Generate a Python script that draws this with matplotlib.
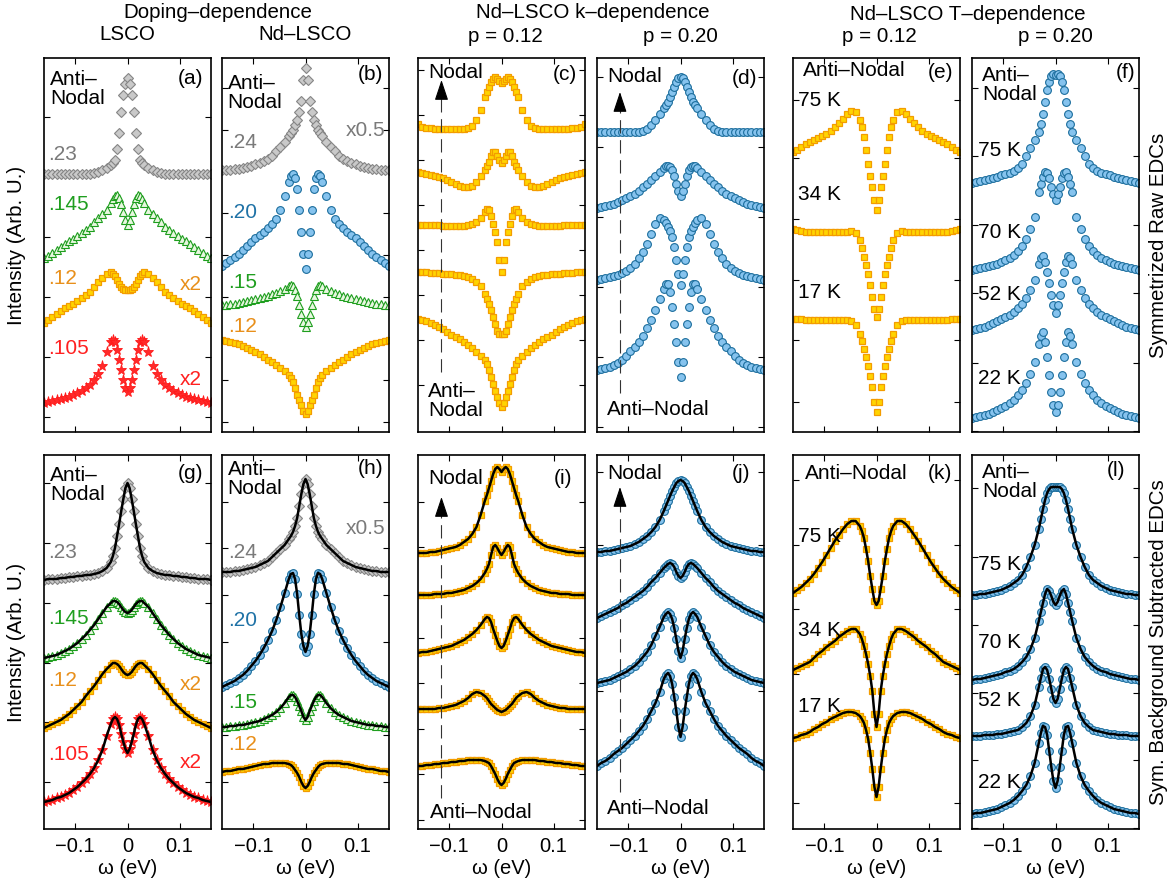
import numpy as np
import matplotlib
matplotlib.use('Agg')
import matplotlib.pyplot as plt

plt.rcParams['font.family'] = ['Liberation Sans', 'DejaVu Sans']
plt.rcParams['font.size'] = 14

# symmetrized EDCs: only the w >= 0 half is stored, the other half is its mirror
omega_half = [0.000, 0.004, 0.008, 0.012, 0.016, 0.020, 0.024, 0.028, 0.032,
              0.040, 0.048, 0.056, 0.064, 0.072, 0.080, 0.088, 0.096, 0.104,
              0.112, 0.120, 0.128, 0.136, 0.144, 0.152, 0.160]

# ---- raw symmetrized EDCs (arb. units, offsets included) ----
a_23 = [354, 348, 337, 320, 299, 283, 272, 269, 267, 264, 262, 260, 259, 258, 258, 258, 258, 258, 258, 258, 258, 258, 258, 258, 258]
a_145 = [207, 212, 220, 228, 234, 237, 236, 233, 229, 222, 218, 214, 210, 205, 202, 199, 196, 193, 191, 188, 185, 182, 179, 176, 174]
a_12 = [142, 142, 143, 145, 148, 152, 156, 158, 160, 158, 154, 150, 145, 140, 137, 134, 131, 128, 126, 124, 121, 118, 115, 112, 109]
a_105 = [40, 44, 52, 62, 72, 82, 90, 92, 90, 80, 66, 58, 52, 47, 44, 41, 39, 37, 35, 34, 33, 32, 31, 30, 29]

b_24 = [364, 352, 331, 320, 312, 307, 302, 299, 296, 290, 285, 281, 276, 273, 271, 269, 268, 266, 265, 264, 263, 263, 262, 262, 262]
b_20 = [163, 178, 200, 222, 243, 254, 258, 256, 250, 236, 222, 213, 208, 204, 200, 197, 194, 190, 186, 182, 178, 175, 172, 169, 166]
b_15 = [105, 110, 118, 127, 136, 142, 146, 147, 146, 143, 141, 139, 138, 136, 135, 134, 133, 132, 131, 130, 129, 128, 128, 127, 127]
b_12 = [18, 21, 27, 32, 37, 44, 50, 54, 57, 61, 64, 67, 70, 72, 75, 78, 80, 82, 84, 86, 88, 89, 90, 91, 92]

c_1 = [349, 351, 353, 355, 353, 350, 345, 340, 335, 322, 312, 306, 304, 303, 303, 303, 303, 303, 303, 303, 303, 304, 304, 305, 308]
c_2 = [269, 272, 276, 280, 280, 276, 270, 266, 262, 256, 250, 246, 245, 245, 246, 248, 250, 252, 254, 255, 256, 257, 258, 259, 260]
c_3 = [160, 172, 190, 200, 208, 216, 222, 223, 220, 214, 210, 208, 207, 206, 206, 206, 206, 206, 206, 207, 207, 207, 207, 207, 207]
c_4 = [98, 98, 101, 108, 115, 122, 128, 133, 138, 146, 150, 153, 155, 156, 157, 157, 158, 158, 158, 159, 159, 159, 160, 160, 160]
c_5 = [25, 29, 35, 41, 48, 55, 62, 68, 72, 76, 80, 84, 87, 90, 93, 95, 97, 100, 103, 105, 107, 109, 111, 112, 113]

d_1 = [355, 354, 350, 345, 340, 335, 330, 327, 324, 318, 312, 307, 303, 301, 300, 300, 300, 300, 300, 300, 300, 300, 300, 300, 300]
d_2 = [236, 241, 248, 256, 262, 265, 266, 266, 264, 260, 256, 252, 248, 245, 241, 238, 236, 234, 232, 230, 228, 227, 226, 225, 224]
d_3 = [147, 158, 172, 185, 195, 201, 205, 209, 212, 214, 208, 198, 188, 180, 174, 168, 164, 161, 159, 157, 156, 155, 154, 153, 152]
d_4 = [55, 70, 90, 108, 125, 140, 148, 148, 143, 133, 122, 112, 104, 96, 90, 85, 81, 76, 72, 69, 67, 65, 64, 63, 62]

e_75 = [222, 232, 245, 256, 268, 282, 295, 305, 312, 320, 321, 318, 313, 309, 305, 301, 298, 296, 294, 292, 290, 288, 285, 282, 280]
e_34 = [115, 123, 135, 147, 158, 167, 175, 184, 192, 199, 201, 200, 200, 200, 200, 200, 200, 200, 200, 200, 200, 200, 201, 202, 203]
e_17 = [20, 30, 45, 56, 66, 75, 83, 91, 98, 107, 111, 112, 112, 112, 112, 112, 112, 112, 112, 112, 112, 112, 113, 113, 113]

f_75 = [357, 358, 356, 350, 342, 330, 318, 308, 300, 292, 284, 276, 268, 264, 261, 259, 258, 257, 255, 254, 253, 252, 251, 250, 249]
f_70 = [232, 238, 245, 254, 259, 260, 255, 248, 240, 215, 203, 193, 186, 181, 177, 174, 172, 170, 168, 167, 166, 165, 164, 163, 162]
f_52 = [119, 127, 137, 149, 160, 170, 176, 174, 168, 152, 142, 134, 128, 124, 120, 117, 115, 113, 111, 109, 107, 105, 104, 103, 102]
f_22 = [20, 27, 40, 57, 75, 90, 100, 96, 88, 70, 58, 49, 42, 37, 32, 29, 26, 24, 22, 20, 18, 17, 16, 15, 14]

# ---- background subtracted EDCs ----
g_23 = [346, 341, 330, 318, 305, 293, 281, 273, 267, 261, 258, 256, 255, 254, 254, 253, 253, 252, 252, 251, 251, 250, 250, 250, 249]
g_145 = [216, 217, 219, 222, 225, 227, 228, 228, 226, 222, 216, 210, 204, 199, 194, 190, 186, 183, 180, 178, 176, 174, 173, 172, 171]
g_12 = [154, 155, 157, 160, 163, 165, 166, 166, 164, 160, 155, 149, 143, 138, 133, 127, 123, 119, 115, 112, 109, 107, 105, 103, 101]
g_105 = [76, 80, 87, 95, 104, 110, 112, 110, 105, 93, 79, 69, 61, 55, 50, 46, 42, 39, 36, 34, 32, 31, 29, 28, 27]

h_24 = [350, 345, 335, 323, 311, 303, 297, 293, 290, 284, 280, 276, 272, 268, 266, 264, 262, 261, 260, 259, 258, 258, 257, 257, 257]
h_20 = [177, 183, 195, 214, 235, 250, 256, 255, 250, 236, 222, 209, 198, 189, 181, 174, 168, 163, 158, 154, 151, 148, 146, 144, 142]
h_15 = [109, 112, 118, 123, 128, 132, 134, 134, 132, 126, 121, 117, 114, 112, 110, 108, 107, 106, 105, 104, 104, 103, 103, 102, 102]
h_12 = [41, 43, 47, 52, 56, 59, 62, 64, 65, 66, 66, 66, 66, 65, 65, 64, 63, 62, 61, 60, 60, 59, 58, 58, 57]

i_1 = [357, 360, 362, 360, 355, 348, 341, 334, 328, 314, 302, 295, 290, 287, 284, 282, 281, 280, 279, 278, 277, 277, 276, 276, 276]
i_2 = [274, 277, 281, 284, 282, 274, 265, 260, 256, 250, 246, 243, 241, 239, 238, 237, 236, 236, 235, 235, 235, 234, 234, 234, 234]
i_3 = [181, 183, 188, 194, 200, 207, 211, 212, 210, 204, 199, 195, 192, 189, 187, 185, 183, 182, 181, 180, 179, 178, 177, 177, 176]
i_4 = [117, 118, 119, 121, 123, 125, 128, 131, 133, 136, 137, 135, 131, 128, 126, 124, 123, 122, 121, 121, 120, 120, 120, 120, 120]
i_5 = [44, 46, 50, 55, 59, 63, 66, 67, 68, 69, 69, 69, 69, 68, 68, 67, 67, 66, 66, 65, 65, 64, 64, 63, 63]

j_1 = [349, 348, 346, 342, 338, 333, 328, 323, 318, 309, 302, 297, 293, 290, 287, 285, 283, 282, 281, 280, 279, 278, 278, 277, 277]
j_2 = [251, 253, 257, 262, 265, 266, 265, 263, 261, 256, 251, 247, 242, 238, 235, 232, 229, 226, 224, 221, 219, 217, 215, 213, 211]
j_3 = [171, 178, 190, 201, 210, 215, 217, 215, 212, 202, 193, 184, 177, 172, 167, 163, 160, 157, 155, 153, 151, 149, 148, 147, 146]
j_4 = [92, 102, 118, 132, 145, 153, 156, 154, 150, 137, 126, 118, 110, 103, 98, 93, 89, 85, 81, 78, 75, 71, 68, 66, 63]

k_75 = [224, 228, 240, 253, 268, 280, 291, 298, 303, 308, 308, 305, 300, 294, 288, 281, 274, 267, 261, 255, 250, 246, 242, 239, 236]
k_34 = [102, 115, 138, 153, 165, 175, 183, 190, 195, 200, 200, 198, 195, 192, 188, 185, 182, 178, 175, 171, 167, 165, 163, 161, 159]
k_17 = [32, 42, 60, 76, 90, 99, 106, 110, 113, 116, 117, 117, 116, 114, 112, 110, 107, 105, 102, 100, 97, 95, 94, 92, 91]

l_75 = [342, 342, 342, 340, 336, 329, 320, 310, 300, 284, 272, 262, 254, 249, 246, 243, 241, 239, 238, 237, 236, 235, 235, 234, 234]
l_70 = [224, 227, 233, 238, 240, 235, 226, 217, 208, 191, 180, 172, 167, 163, 160, 158, 157, 155, 154, 153, 152, 151, 150, 150, 149]
l_52 = [126, 130, 140, 150, 159, 162, 160, 151, 142, 124, 113, 106, 102, 99, 98, 97, 96, 95, 95, 94, 94, 94, 93, 93, 93]
l_22 = [41, 48, 62, 78, 94, 102, 103, 96, 86, 66, 53, 44, 38, 33, 29, 26, 24, 22, 20, 19, 18, 17, 16, 16, 15]

# marker styles
gray = dict(marker='D', ms=4.6, mfc='#c9c9c9', mec='#858585', mew=0.8)
green = dict(marker='^', ms=6, mfc='#e8f7e0', mec='#1e9e1e', mew=0.8)
orange = dict(marker='s', ms=5, mfc='#ffd400', mec='#f39c00', mew=0.9)
red = dict(marker='*', ms=8, mfc='#ff2a2a', mec='#ff1a1a', mew=0.6)
blue = dict(marker='o', ms=5.6, mfc='#86c3ee', mec='#1c6e9d', mew=0.8)

c_gray, c_green, c_orange, c_red, c_blue = '#7a7a7a', '#1f9e1f', '#e88f1a', '#ff2020', '#1f72a6'

top_curves = [
    [(a_23, gray), (a_145, green), (a_12, orange), (a_105, red)],
    [(b_24, gray), (b_20, blue), (b_15, green), (b_12, orange)],
    [(c_1, orange), (c_2, orange), (c_3, orange), (c_4, orange), (c_5, orange)],
    [(d_1, blue), (d_2, blue), (d_3, blue), (d_4, blue)],
    [(e_75, orange), (e_34, orange), (e_17, orange)],
    [(f_75, blue), (f_70, blue), (f_52, blue), (f_22, blue)],
]
bottom_curves = [
    [(g_23, gray), (g_145, green), (g_12, orange), (g_105, red)],
    [(h_24, gray), (h_20, blue), (h_15, green), (h_12, orange)],
    [(i_1, orange), (i_2, orange), (i_3, orange), (i_4, orange), (i_5, orange)],
    [(j_1, blue), (j_2, blue), (j_3, blue), (j_4, blue)],
    [(k_75, orange), (k_34, orange), (k_17, orange)],
    [(l_75, blue), (l_70, blue), (l_52, blue), (l_22, blue)],
]

top_yticks = [[15, 75, 135, 195, 255, 315], [10, 52, 94, 135, 177, 219, 260, 302, 344],
              [47, 92, 137, 182, 227, 272, 317, 362], [5, 75, 145, 215, 285, 355],
              [30, 92, 152, 213, 274, 332], [1, 69, 139, 207, 276, 344]]
bottom_yticks = [[47, 107, 166, 226, 286, 346], [47, 94, 140, 187, 234, 281, 327],
                 [9, 55, 100, 146, 191, 237, 282, 327], [65, 138, 211, 284, 357],
                 [26, 91, 155, 220, 284, 349], [1, 69, 136, 204, 272, 341]]

# text annotations per panel: (text, x, y, color, ha)
top_texts = [
    [('Anti\u2013\nNodal', -0.148, 343, 'k', 'left'), ('(a)', 0.146, 354, 'k', 'right'),
     ('.23', -0.152, 277, c_gray, 'left'), ('.145', -0.152, 227, c_green, 'left'),
     ('.12', -0.152, 154, c_orange, 'left'), ('x2', 0.143, 147, c_orange, 'right'),
     ('.105', -0.152, 84, c_red, 'left'), ('x2', 0.143, 52, c_red, 'right')],
    [('Anti\u2013\nNodal', -0.149, 339, 'k', 'left'), ('(b)', 0.149, 357, 'k', 'right'),
     ('x0.5', 0.153, 302, c_gray, 'right'), ('.24', -0.149, 290, c_gray, 'left'),
     ('.20', -0.149, 219, c_blue, 'left'), ('.15', -0.149, 149, c_green, 'left'),
     ('.12', -0.149, 105, c_orange, 'left')],
    [('Nodal', -0.141, 359, 'k', 'left'), ('(c)', 0.145, 357, 'k', 'right'),
     ('Anti\u2013\nNodal', -0.141, 31, 'k', 'left')],
    [('Nodal', -0.140, 355, 'k', 'left'), ('(d)', 0.147, 354, 'k', 'right'),
     ('Anti\u2013Nodal', -0.140, 22, 'k', 'left')],
    [('Anti\u2013Nodal', -0.141, 362, 'k', 'left'), ('(e)', 0.147, 360, 'k', 'right'),
     ('75 K', -0.151, 332, 'k', 'left'), ('34 K', -0.151, 237, 'k', 'left'),
     ('17 K', -0.151, 139, 'k', 'left')],
    [('Anti\u2013\nNodal', -0.141, 347, 'k', 'left'), ('(f)', 0.153, 360, 'k', 'right'),
     ('75 K', -0.149, 282, 'k', 'left'), ('70 K', -0.149, 199, 'k', 'left'),
     ('52 K', -0.149, 137, 'k', 'left'), ('22 K', -0.149, 54, 'k', 'left')],
]
bottom_texts = [
    [('Anti\u2013\nNodal', -0.148, 344, 'k', 'left'), ('(g)', 0.146, 356, 'k', 'right'),
     ('.23', -0.152, 277, c_gray, 'left'), ('.145', -0.152, 211, c_green, 'left'),
     ('.12', -0.152, 149, c_orange, 'left'), ('x2', 0.143, 144, c_orange, 'right'),
     ('.105', -0.152, 74, c_red, 'left'), ('x2', 0.143, 66, c_red, 'right')],
    [('Anti\u2013\nNodal', -0.149, 350, 'k', 'left'), ('(h)', 0.149, 361, 'k', 'right'),
     ('x0.5', 0.153, 301, c_gray, 'right'), ('.24', -0.149, 277, c_gray, 'left'),
     ('.20', -0.149, 209, c_blue, 'left'), ('.15', -0.149, 127, c_green, 'left'),
     ('.12', -0.149, 84, c_orange, 'left')],
    [('Nodal', -0.141, 351, 'k', 'left'), ('(i)', 0.136, 351, 'k', 'right'),
     ('Anti\u2013Nodal', -0.138, 16, 'k', 'left')],
    [('Nodal', -0.140, 356, 'k', 'left'), ('(j)', 0.134, 356, 'k', 'right'),
     ('Anti\u2013Nodal', -0.140, 21, 'k', 'left')],
    [('Anti\u2013Nodal', -0.138, 356, 'k', 'left'), ('(k)', 0.145, 356, 'k', 'right'),
     ('75 K', -0.151, 292, 'k', 'left'), ('34 K', -0.151, 199, 'k', 'left'),
     ('17 K', -0.151, 122, 'k', 'left')],
    [('Anti\u2013\nNodal', -0.141, 347, 'k', 'left'), ('(l)', 0.134, 359, 'k', 'right'),
     ('75 K', -0.149, 264, 'k', 'left'), ('70 K', -0.149, 186, 'k', 'left'),
     ('52 K', -0.149, 129, 'k', 'left'), ('22 K', -0.149, 47, 'k', 'left')],
]

# nodal -> anti-nodal arrows: (panel column, x, y bottom, y top)
top_arrows = [(2, -0.115, 60, 352), (3, -0.116, 39, 340)]
bottom_arrows = [(2, -0.115, 31, 332), (3, -0.116, 37, 342)]

W, H = 1173, 890
col_left = [44, 222, 418, 597, 793, 972]
row_top = [58, 455]
ax_w, ax_h = 167, 374


def mirror(half):
    w = np.array(omega_half)
    v = np.array(half, dtype=float)
    return np.concatenate([-w[:0:-1], w]), np.concatenate([v[:0:-1], v])


def draw_arrow(ax, x, y0, y1):
    ax.plot([x, x], [y0, y1 - 16], color='#333333', lw=0.8, ls=(0, (12, 6)))
    ax.annotate('', xy=(x, y1), xytext=(x, y1 - 17),
                arrowprops=dict(arrowstyle='-|>,head_length=0.9,head_width=0.3',
                                color='k', lw=0.8, shrinkA=0, shrinkB=0))


def make_panel(col, row, curves, yticks, texts, fit):
    left = col_left[col] / W
    bottom = 1 - (row_top[row] + ax_h) / H
    ax = fig.add_axes([left, bottom, ax_w / W, ax_h / H])
    for vals, style in curves:
        x, y = mirror(vals)
        ax.plot(x, y, ls='none', **style)
        if fit:
            ax.plot(x, y, color='k', lw=1.8)
    for txt, tx, ty, tc, ha in texts:
        ax.text(tx, ty, txt, color=tc, ha=ha, va='center', fontsize=15, linespacing=1.05)
    ax.set_xlim(-0.16, 0.16)
    ax.set_ylim(0, ax_h)
    ax.set_xticks([-0.1, 0, 0.1])
    ax.set_yticks(yticks)
    ax.set_yticklabels([])
    ax.tick_params(direction='in', top=True, right=True, length=4, width=0.8,
                   labelsize=14.5, pad=6)
    if row == 1:
        ax.set_xticklabels(['\u22120.1', '0', '0.1'])
        ax.set_xlabel('\u03c9 (eV)', fontsize=14.5, labelpad=2)
    else:
        ax.set_xticklabels([])
    for s in ax.spines.values():
        s.set_linewidth(1.2)
    return ax


fig = plt.figure(figsize=(W / 100, H / 100), dpi=100)

top_axes = []
for i in range(6):
    top_axes.append(make_panel(i, 0, top_curves[i], top_yticks[i], top_texts[i], False))
bottom_axes = []
for i in range(6):
    bottom_axes.append(make_panel(i, 1, bottom_curves[i], bottom_yticks[i], bottom_texts[i], True))

for col, x, y0, y1 in top_arrows:
    draw_arrow(top_axes[col], x, y0, y1)
for col, x, y0, y1 in bottom_arrows:
    draw_arrow(bottom_axes[col], x, y0, y1)


def ftext(px, py, s, **kw):
    fig.text(px / W, 1 - py / H, s, ha='center', va='center', fontsize=14.8, **kw)


ftext(218, 13, 'Doping\u2013dependence')
ftext(127, 35, 'LSCO')
ftext(305, 35, 'Nd\u2013LSCO')
ftext(593, 13, 'Nd\u2013LSCO k\u2013dependence')
ftext(505, 36, 'p = 0.12')
ftext(680, 36, 'p = 0.20')
ftext(968, 15, 'Nd\u2013LSCO T\u2013dependence')
ftext(879, 37, 'p = 0.12')
ftext(1055, 37, 'p = 0.20')

ftext(17, 245, 'Intensity (Arb. U.)', rotation=90)
ftext(17, 642, 'Intensity (Arb. U.)', rotation=90)
ftext(1158, 245, 'Symmetrized Raw EDCs', rotation=90)
ftext(1158, 642, 'Sym. Background Subtracted EDCs', rotation=90)

fig.savefig('out.png', dpi=100)
